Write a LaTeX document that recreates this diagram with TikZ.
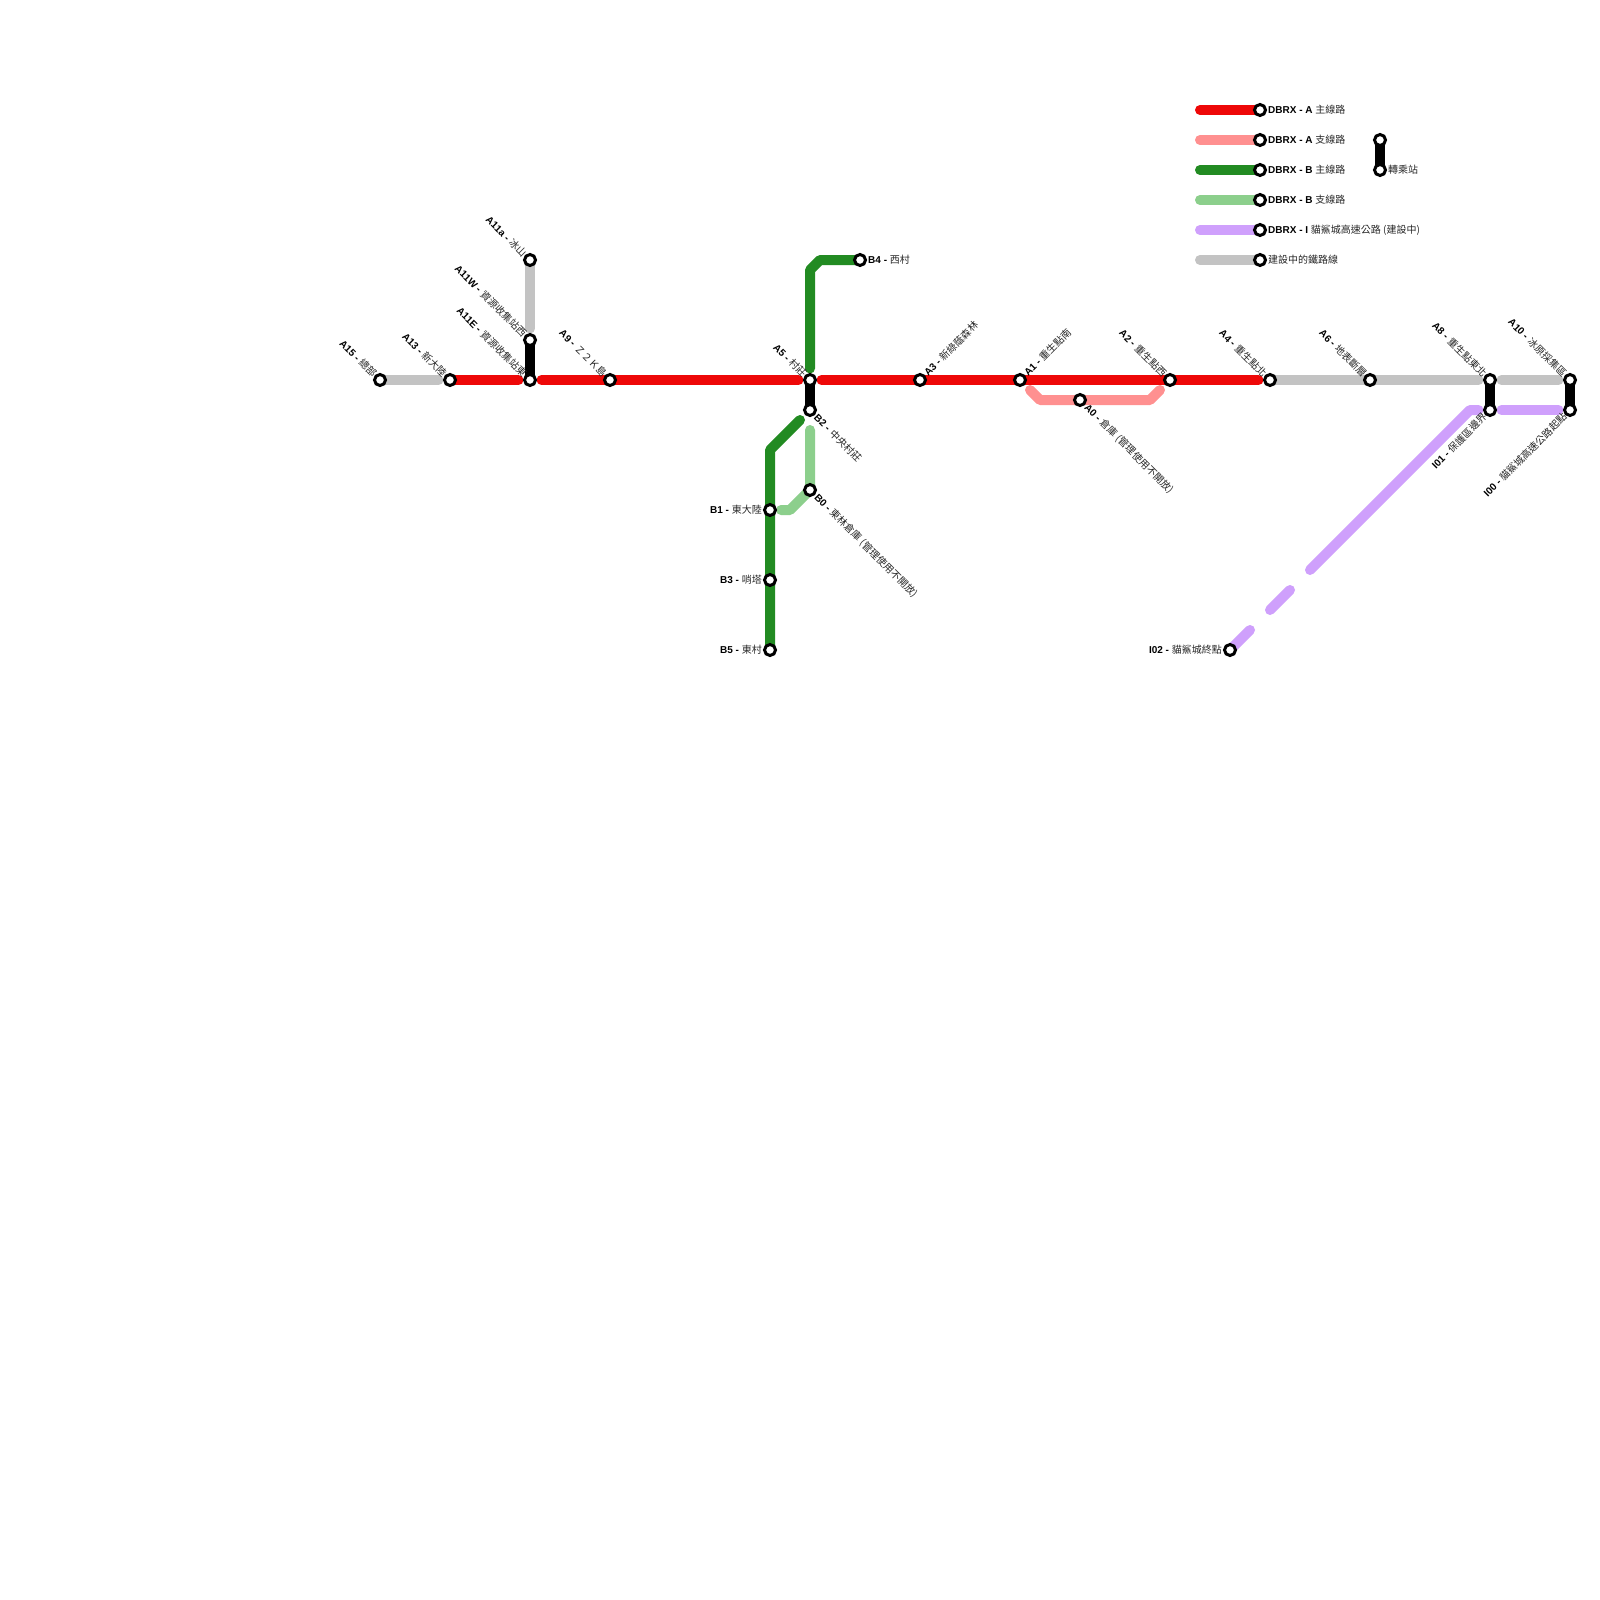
\documentclass[tikz,border=0pt]{standalone}
\usepackage{fontspec}
\setmainfont{Liberation Sans}
\newfontfamily\cjk{Noto Sans CJK TC}
\usetikzlibrary{backgrounds}
\definecolor{cred}{HTML}{EE0808}
\definecolor{cpink}{HTML}{FF9090}
\definecolor{cgreen}{HTML}{228B22}
\definecolor{clgreen}{HTML}{8CCF8C}
\definecolor{cpurple}{HTML}{CFA0FC}
\definecolor{cgray}{HTML}{C3C3C3}
\newcommand{\stlab}[2]{\textbf{#1 -} {\cjk\color{black!85}#2}}
\newcommand{\lgdlab}[2]{\textbf{#1} {\cjk\color{black!85}#2}}
\tikzset{
  x=1pt,y=-1pt,
  stn/.style={circle,draw=black,fill=white,line width=3pt,minimum size=11pt,inner sep=0pt},
  rail/.style={line width=10pt,line cap=round,line join=round},
  xfer/.style={line width=10pt,line cap=round,draw=black},
  lbl/.style={inner sep=0pt,font=\fontsize{10}{12}\selectfont,text=black},
  ul/.style={lbl,rotate=-45,anchor=east},
  dl/.style={lbl,rotate=45,anchor=east},
  ur/.style={lbl,rotate=45,anchor=west},
  dr/.style={lbl,rotate=-45,anchor=west},
  lf/.style={lbl,anchor=east},
  rt/.style={lbl,anchor=west},
  sa/.style={shorten <=#1},
  sb/.style={shorten >=#1},
}
\begin{document}
\begin{tikzpicture}
\useasboundingbox (0,0) rectangle (1600,1600);
% stations
\foreach \n/\x/\y in {A15/380/380,A13/450/380,A11E/530/380,A11W/530/340,A11a/530/260,A9/610/380,A5/810/380,B2/810/410,B4/860/260,A3/920/380,A1/1020/380,A0/1080/400,A2/1170/380,A4/1270/380,A6/1370/380,A8/1490/380,I01/1490/410,A10/1570/380,I00/1570/410,B1/770/510,B3/770/580,B5/770/650,B0/810/490,I02/1230/650,LA/1260/110,LB/1260/140,LC/1260/170,LD/1260/200,LE/1260/230,LF/1260/260,XA/1380/140,XB/1380/170}
  \node[stn] (\n) at (\x,\y) {};
% free ends and bends
\foreach \n/\x/\y in {g1/820/260,g2/810/270,h1/770/450,h2/800/420,m1/810/430,m2/790/510,m3/781/510,p1/1030/390,p2/1040/400,p3/1150/400,p4/1160/390,v1/1250/630,v2/1270/610,v3/1290/590,v4/1310/570,v5/1470/410,v6/1478.5/410,l1/1200/110,l2/1200/140,l3/1200/170,l4/1200/200,l5/1200/230,l6/1200/260}
  \coordinate (\n) at (\x,\y);
\begin{pgfonlayer}{background}
\fill[white] (0,0) rectangle (1600,1600);
% gray
\draw[rail,cgray,sb=11.5pt] (A15.center) -- (A13.center);
\draw[rail,cgray,sb=11.5pt] (A11a.center) -- (A11W.center);
\draw[rail,cgray,sb=11.5pt] (A4.center) -- (A8.center);
\draw[rail,cgray,sa=11.5pt,sb=11.5pt] (A8.center) -- (A10.center);
% red
\draw[rail,cred,sb=11.5pt] (A13.center) -- (A11E.center);
\draw[rail,cred,sa=11.5pt,sb=11.5pt] (A11E.center) -- (A5.center);
\draw[rail,cred,sa=11.5pt,sb=11.5pt] (A5.center) -- (A4.center);
% pink
\draw[rail,cpink] (p1) -- (p2) -- (p3) -- (p4);
% green
\draw[rail,cgreen,sb=11.5pt] (B4.center) -- (g1) -- (g2) -- (A5.center);
\draw[rail,cgreen] (B5.center) -- (h1) -- (h2);
% light green
\draw[rail,clgreen] (m1) -- (B0.center) -- (m2) -- (m3);
% purple
\draw[rail,cpurple] (I02.center) -- (v1);
\draw[rail,cpurple] (v2) -- (v3);
\draw[rail,cpurple] (v4) -- (v5) -- (v6);
\draw[rail,cpurple,sa=11.5pt,sb=11.5pt] (I01.center) -- (I00.center);
% transfers
\draw[xfer] (A11W.center) -- (A11E.center);
\draw[xfer] (A5.center) -- (B2.center);
\draw[xfer] (A8.center) -- (I01.center);
\draw[xfer] (A10.center) -- (I00.center);
\draw[xfer] (XA.center) -- (XB.center);
% legend
\draw[rail,cred] (l1) -- (LA.center);
\draw[rail,cpink] (l2) -- (LB.center);
\draw[rail,cgreen] (l3) -- (LC.center);
\draw[rail,clgreen] (l4) -- (LD.center);
\draw[rail,cpurple] (l5) -- (LE.center);
\draw[rail,cgray] (l6) -- (LF.center);
\end{pgfonlayer}
% labels
\node[ul] (tA15) at ([shift={(-5,-5)}]A15.center) {\stlab{A15}{總部}};
\node[ul] (tA13) at ([shift={(-5,-5)}]A13.center) {\stlab{A13}{新大陸}};
\node[ul] (tA11E) at ([shift={(-5,-5)}]A11E.center) {\stlab{A11E}{資源收集站東}};
\node[ul] (tA11W) at ([shift={(-5,-5)}]A11W.center) {\stlab{A11W}{資源收集站西}};
\node[ul] (tA11a) at ([shift={(-5,-5)}]A11a.center) {\stlab{A11a}{冰山}};
\node[ul] (tA9) at ([shift={(-5,-5)}]A9.center) {\stlab{A9}{Ｚ２Ｋ島}};
\node[ul] (tA5) at ([shift={(-5,-5)}]A5.center) {\stlab{A5}{村莊}};
\node[ul] (tA2) at ([shift={(-5,-5)}]A2.center) {\stlab{A2}{重生點西}};
\node[ul] (tA4) at ([shift={(-5,-5)}]A4.center) {\stlab{A4}{重生點北}};
\node[ul] (tA6) at ([shift={(-5,-5)}]A6.center) {\stlab{A6}{地表斷層}};
\node[ul] (tA8) at ([shift={(-5,-5)}]A8.center) {\stlab{A8}{重生點東北}};
\node[ul] (tA10) at ([shift={(-5,-5)}]A10.center) {\stlab{A10}{冰原採集區}};
\node[ur] (tA3) at ([shift={(5.5,-6)}]A3.center) {\stlab{A3}{新綠蔭森林}};
\node[ur] (tA1) at ([shift={(5.5,-6)}]A1.center) {\stlab{A1}{重生點南}};
\node[dl] (tI01) at ([shift={(-5,5)}]I01.center) {\stlab{I01}{保護區邊界}};
\node[dl] (tI00) at ([shift={(-5,5)}]I00.center) {\stlab{I00}{貓鯊城高速公路起點}};
\node[dr] (tA0) at ([shift={(6,6)}]A0.center) {\stlab{A0}{倉庫 (管理使用不開放)}};
\node[dr] (tB2) at ([shift={(6,6)}]B2.center) {\stlab{B2}{中央村莊}};
\node[dr] (tB0) at ([shift={(6,6)}]B0.center) {\stlab{B0}{東林倉庫 (管理使用不開放)}};
\node[lf] (tB1) at ([shift={(-8,0)}]B1.center) {\stlab{B1}{東大陸}};
\node[lf] (tB3) at ([shift={(-8,0)}]B3.center) {\stlab{B3}{哨塔}};
\node[lf] (tB5) at ([shift={(-8,0)}]B5.center) {\stlab{B5}{東村}};
\node[lf] (tI02) at ([shift={(-8,0)}]I02.center) {\stlab{I02}{貓鯊城終點}};
\node[rt] (tB4) at ([shift={(8,0)}]B4.center) {\stlab{B4}{西村}};
\node[rt] (tLA) at ([shift={(8,0)}]LA.center) {\lgdlab{DBRX - A}{主線路}};
\node[rt] (tLB) at ([shift={(8,0)}]LB.center) {\lgdlab{DBRX - A}{支線路}};
\node[rt] (tLC) at ([shift={(8,0)}]LC.center) {\lgdlab{DBRX - B}{主線路}};
\node[rt] (tLD) at ([shift={(8,0)}]LD.center) {\lgdlab{DBRX - B}{支線路}};
\node[rt] (tLE) at ([shift={(8,0)}]LE.center) {\lgdlab{DBRX - I}{貓鯊城高速公路 (建設中)}};
\node[rt] (tLF) at ([shift={(8,0)}]LF.center) {{\cjk\color{black!85}建設中的鐵路線}};
\node[rt] (tX) at ([shift={(8,0)}]XB.center) {{\cjk\color{black!85}轉乘站}};
\end{tikzpicture}
\end{document}
